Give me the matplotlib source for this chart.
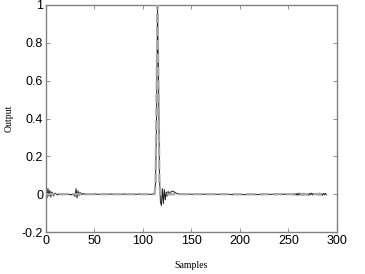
import matplotlib
matplotlib.use("Agg")
import matplotlib.pyplot as plt

plt.rcParams['axes.unicode_minus'] = False

# network output, one value per sample
output = [
    0.04, -0.02, 0.03, -0.01, 0.02, -0.015, 0.012, 0.004, -0.01, 0.006,
    0.003, 0.0, -0.004, 0.002, 0.0, 0.003, 0.0, -0.003, 0.0, 0.001,
    0.0, 0.0, 0.003, 0.0, -0.002, 0.0, -0.004, 0.0, 0.0, -0.006,
    -0.012, 0.03, -0.02, 0.018, -0.008, 0.01, 0.004, -0.002, 0.004, 0.0,
    0.002, 0.0, 0.0, -0.002, 0.0, 0.001, 0.0, 0.0, -0.001, 0.0,
    0.0, 0.002, 0.0, 0.0, 0.0, -0.002, 0.0, 0.0, 0.0, 0.001,
    0.0, 0.0, 0.0, -0.001, 0.0, 0.0, 0.0, 0.002, 0.0, 0.0,
    0.0, 0.0, -0.002, 0.0, 0.0, 0.0, 0.001, 0.0, 0.0, 0.0,
    0.0, 0.002, 0.0, 0.0, -0.002, 0.0, 0.0, 0.0, 0.0, 0.001,
    0.0, 0.0, 0.0, -0.001, 0.0, 0.0, 0.002, 0.0, 0.0, 0.0,
    -0.002, 0.0, 0.0, 0.0, 0.0, 0.001, 0.0, -0.001, 0.0, 0.0,
    0.0, 0.004, 0.01, 0.06, 0.4, 0.98, 0.65, 0.1, -0.04, -0.06,
    0.03, -0.05, 0.025, -0.03, 0.012, -0.01, 0.015, -0.004, 0.01, 0.012,
    0.015, 0.016, 0.012, 0.01, 0.006, 0.004, 0.002, 0.002, 0.0, 0.001,
    0.0, 0.0, 0.002, 0.0, 0.0, -0.001, 0.0, 0.0, 0.001, 0.0,
    0.0, -0.001, 0.0, 0.0, 0.001, 0.0, 0.0, 0.0, -0.001, 0.0,
    0.0, 0.0, 0.0, 0.001, 0.0, 0.0, -0.001, 0.0, 0.0, 0.0,
    0.0, 0.0, -0.002, 0.0, 0.0, 0.0, 0.0, -0.001, 0.0, 0.0,
    -0.002, 0.0, 0.0, -0.001, 0.0, 0.0, -0.002, 0.0, 0.0, -0.001,
    -0.002, -0.002, 0.0, -0.003, -0.002, 0.0, -0.002, -0.003, 0.0, -0.002,
    -0.001, -0.003, -0.002, 0.0, -0.003, -0.002, -0.001, -0.003, 0.0, -0.002,
    -0.003, -0.001, -0.002, 0.0, -0.003, -0.002, -0.002, 0.0, -0.003, -0.001,
    -0.002, 0.0, -0.002, -0.003, 0.0, -0.001, -0.002, 0.0, -0.002, -0.001,
    0.0, -0.002, 0.0, -0.001, 0.0, 0.0, 0.002, -0.004, 0.004, -0.002,
    0.0, 0.002, -0.003, 0.0, 0.002, -0.002, 0.0, 0.001, -0.002, 0.0,
    0.002, 0.0, -0.002, 0.003, 0.0, -0.004, 0.005, -0.003, 0.004, -0.006,
    0.005, -0.004, 0.006, -0.005, 0.004, -0.006, 0.006, -0.004, 0.003, -0.005,
    0.004, -0.006, 0.005, -0.003, 0.006, -0.004, 0.005, -0.002, 0.004, -0.003,
    0.005, -0.005, 0.006, -0.004, 0.005, -0.006, 0.004, -0.003, 0.005, -0.004,
]

# target pulse (sample index, value)
target_x = [0, 112, 113, 114, 115, 116, 117, 118, 119, 290]
target_y = [0.0, 0.0, 0.05, 0.5, 1.0, 0.55, 0.05, 0.0, 0.0, 0.0]

xticks = [0, 50, 100, 150, 200, 250, 300]
yticks = [-0.2, 0, 0.2, 0.4, 0.6, 0.8, 1]
ytick_labels = ['-0.2', '0', '0.2', '0.4', '0.6', '0.8', '1']

fig = plt.figure(figsize=(3.65, 2.74), dpi=100)
ax = fig.add_axes([0.126, 0.153, 0.797, 0.829])

ax.plot(range(len(output)), output, color='#202020', lw=0.7, zorder=2)
ax.plot(target_x, target_y, color='#a8a8a8', lw=1.6, ls='--', dashes=(4, 2), zorder=3)

ax.set_xlim(0, 300)
ax.set_ylim(-0.2, 1)
ax.set_xticks(xticks)
ax.set_xticklabels([str(t) for t in xticks])
ax.set_yticks(yticks)
ax.set_yticklabels(ytick_labels)

for sp in ax.spines.values():
    sp.set_color('#808080')
    sp.set_linewidth(1.0)
ax.tick_params(direction='in', top=True, right=True, length=3, width=0.6,
               color='#808080', labelsize=9, pad=2)
for lbl in ax.get_xticklabels() + ax.get_yticklabels():
    lbl.set_family(['Liberation Sans', 'DejaVu Sans'])

ax.set_xlabel('Samples', family=['Liberation Serif', 'DejaVu Serif'], fontsize=7, labelpad=10)
ax.set_ylabel('Output', family=['Liberation Serif', 'DejaVu Serif'], fontsize=7, labelpad=6)

fig.savefig('out.png', dpi=100)
